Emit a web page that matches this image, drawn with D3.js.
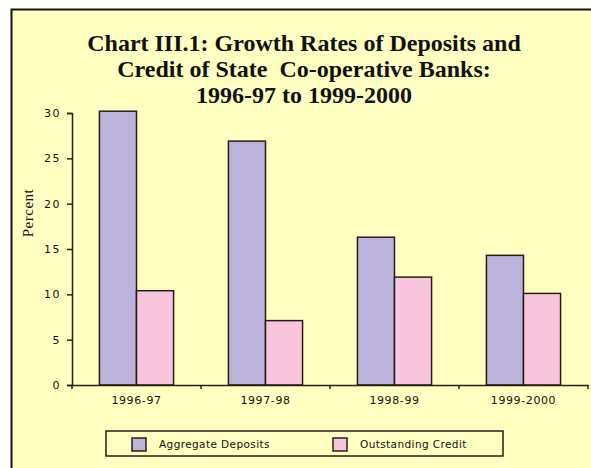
<!DOCTYPE html>
<html>
<head>
<meta charset="utf-8">
<script src="https://cdn.jsdelivr.net/npm/d3@7"></script>
<style>
html,body{margin:0;padding:0;background:#ffffff;}
svg{display:block;}
</style>
</head>
<body>
<svg id="chart" width="591" height="468"></svg>
<script>
const categories = ["1996-97", "1997-98", "1998-99", "1999-2000"];
const seriesNames = ["Aggregate Deposits", "Outstanding Credit"];
const aggregateDeposits = [30.2, 26.9, 16.3, 14.3];
const outstandingCredit = [10.4, 7.1, 11.9, 10.1];
const yTicks = [0, 5, 10, 15, 20, 25, 30];
const titleLines = ["Chart III.1: Growth Rates of Deposits and", "Credit of State  Co-operative Banks:", "1996-97 to 1999-2000"];
const yLabel = "Percent";

const colors = ["#bbb3da", "#f9c5dd"];
const stroke = "#2a1c14";
const seriesValues = [aggregateDeposits, outstandingCredit];

const svg = d3.select("#chart");

// frame
svg.append("rect").attr("x", 11.5).attr("y", 9.5).attr("width", 590).attr("height", 470)
  .attr("fill", "#ffffc2").attr("stroke", "#1a1208").attr("stroke-width", 2);

// title
const title = svg.append("text").attr("text-anchor", "middle")
  .attr("font-family", "Liberation Serif, Times New Roman, serif")
  .attr("font-weight", "bold").attr("font-size", 24).attr("fill", "#111");
titleLines.forEach((t, i) => {
  title.append("tspan").attr("x", 304).attr("y", 51 + i * 26).attr("xml:space", "preserve").text(t);
});

const x0 = d3.scaleBand().domain(categories).range([72, 588]).padding(0);
const x1 = d3.scaleBand().domain(seriesNames).range([0, x0.bandwidth()]).paddingInner(0).paddingOuter(0.74);
const y = d3.scaleLinear().domain([0, 30]).range([385, 113]);

// bars
const groups = svg.append("g").selectAll("g").data(categories).join("g")
  .attr("transform", d => `translate(${x0(d)},0)`);
groups.selectAll("rect").data((d, i) => seriesNames.map((s, j) => ({s, j, v: seriesValues[j][i]})))
  .join("rect")
  .attr("x", d => x1(d.s)).attr("width", x1.bandwidth())
  .attr("y", d => y(d.v)).attr("height", d => y(0) - y(d.v))
  .attr("fill", d => colors[d.j]).attr("stroke", stroke).attr("stroke-width", 1.5);

// y axis
const yAxis = svg.append("g").attr("transform", "translate(72,0)")
  .call(d3.axisLeft(y).tickValues(yTicks).tickSize(5).tickPadding(6).tickFormat(d3.format("d")));
yAxis.select(".domain").attr("stroke", stroke).attr("stroke-width", 1.5);
yAxis.selectAll(".tick line").attr("stroke", stroke).attr("stroke-width", 1.5);
yAxis.selectAll("text").attr("font-family", "DejaVu Sans, sans-serif").attr("font-size", 11)
  .attr("letter-spacing", 1.5).attr("fill", "#111");

// x axis
const xAxis = svg.append("g").attr("transform", "translate(0,385)")
  .call(d3.axisBottom(x0).tickSize(0).tickPadding(11));
xAxis.select(".domain").attr("stroke", stroke).attr("stroke-width", 1.5);
xAxis.selectAll("text").attr("font-family", "DejaVu Sans, sans-serif").attr("font-size", 11)
  .attr("letter-spacing", 0.6).attr("fill", "#111");
// boundary ticks
const bounds = categories.map(c => x0(c)).concat([x0(categories[categories.length - 1]) + x0.bandwidth()]);
xAxis.selectAll(".bt").data(bounds).join("line").attr("class", "bt")
  .attr("x1", d => d).attr("x2", d => d).attr("y1", 0).attr("y2", 4)
  .attr("stroke", stroke).attr("stroke-width", 1.5);

// y label
svg.append("text").attr("transform", "translate(33,213) rotate(-90)")
  .attr("text-anchor", "middle").attr("font-family", "Liberation Serif, Times New Roman, serif")
  .attr("font-size", 15).attr("letter-spacing", 0.5).attr("fill", "#111").text(yLabel);

// legend
const lg = svg.append("g");
lg.append("rect").attr("x", 106).attr("y", 431).attr("width", 397).attr("height", 25)
  .attr("fill", "none").attr("stroke", stroke).attr("stroke-width", 1.5);
const legX = [132, 333];
seriesNames.forEach((s, j) => {
  lg.append("rect").attr("x", legX[j]).attr("y", 438).attr("width", 14).attr("height", 13)
    .attr("fill", colors[j]).attr("stroke", stroke).attr("stroke-width", 1.5);
  lg.append("text").attr("x", legX[j] + 27).attr("y", 448)
    .attr("font-family", "DejaVu Sans, sans-serif").attr("font-size", 10.5).attr("letter-spacing", 0.4)
    .attr("fill", "#111").text(s);
});
</script>
</body>
</html>
